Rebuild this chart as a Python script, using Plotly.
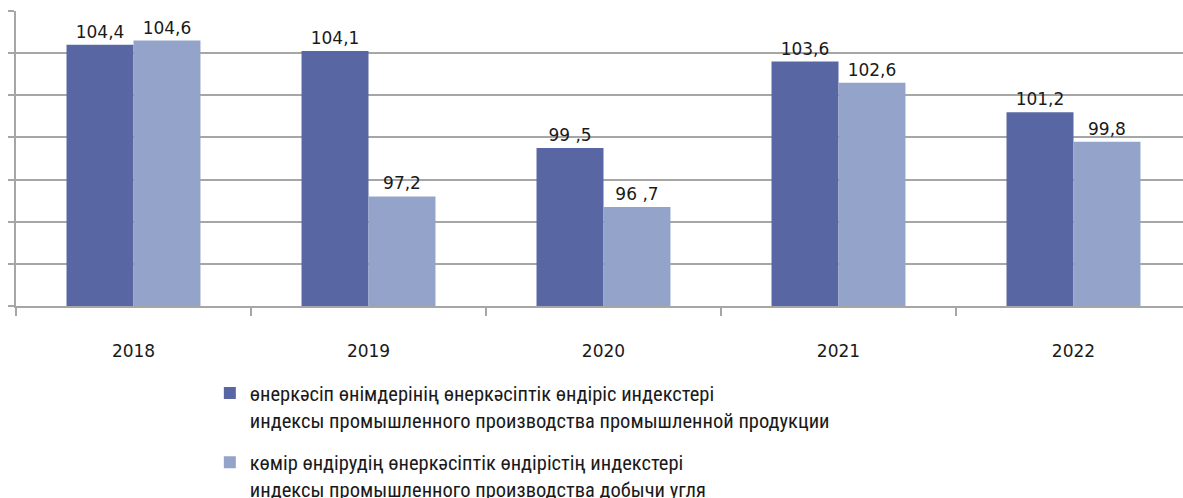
import plotly.graph_objects as go

years = ["2018", "2019", "2020", "2021", "2022"]
industry = [104.4, 104.1, 99.5, 103.6, 101.2]
coal = [104.6, 97.2, 96.7, 102.6, 99.8]
industry_labels = ["104,4", "104,1", "99 ,5", "103,6", "101,2"]
coal_labels = ["104,6", "97,2", "96 ,7", "102,6", "99,8"]
name_industry = "өнеркәсіп өнімдерінің өнеркәсіптік өндіріс индекстері<br>индексы промышленного производства промышленной продукции"
name_coal = "көмір өндірудің өнеркәсіптік өндірістің индекстері<br>индексы промышленного производства добычи угля"
unit_note = "в процентах к предыдущему году"

LABEL_FONT = dict(family="DejaVu Sans, Verdana, sans-serif", size=17, color="#1a1a1a")
TEXT_FONT = "Roboto Condensed, Liberation Sans, sans-serif"

fig = go.Figure()
fig.add_trace(go.Bar(
    x=years, y=industry, name=name_industry, legendgroup="a",
    marker=dict(color="#5867a3", line=dict(width=0)),
    text=industry_labels, textposition="outside", textfont=LABEL_FONT,
    cliponaxis=False,
))
fig.add_trace(go.Bar(
    x=years, y=coal, name=name_coal, legendgroup="b",
    marker=dict(color="#94a3c9", line=dict(width=0)),
    text=coal_labels, textposition="outside", textfont=LABEL_FONT,
    cliponaxis=False,
))

fig.update_layout(
    width=1183, height=498,
    margin=dict(l=16, r=0, t=11, b=192, autoexpand=False),
    paper_bgcolor="white", plot_bgcolor="white",
    barmode="group", bargap=0.43, bargroupgap=0,
    showlegend=True,
    legend=dict(
        x=0.1661, xanchor="left", y=-0.2278, yanchor="top",
        font=dict(family=TEXT_FONT, size=20.5, color="#1a1a1a"),
        valign="top", bgcolor="rgba(0,0,0,0)",
        traceorder="grouped", tracegroupgap=13,
    ),
)
fig.update_xaxes(
    type="category", range=[-0.5, 4.466], automargin=False,
    showline=True, linecolor="#a6a6a6", linewidth=2,
    ticks="outside", tickson="boundaries", ticklen=8, tickcolor="#a6a6a6", tickwidth=2,
    showgrid=False, ticklabelstandoff=29,
    tickfont=LABEL_FONT,
)
fig.update_yaxes(
    range=[92, 106], dtick=2, tick0=92, automargin=False,
    showline=True, linecolor="#a6a6a6", linewidth=2,
    ticks="outside", ticklen=6, tickcolor="#a6a6a6", tickwidth=2,
    showticklabels=False,
    showgrid=True, gridcolor="#a6a6a6", gridwidth=2,
    zeroline=False,
)
fig.add_annotation(
    text=unit_note, xref="paper", yref="paper", x=1, y=1,
    xanchor="right", yanchor="bottom", yshift=8, showarrow=False,
    font=dict(family=TEXT_FONT, size=20, color="#1a1a1a"),
)
fig.write_html(
    "out.html", config={"displayModeBar": False},
    post_script=("document.body.style.margin='0px';"
                 "document.body.style.overflow='hidden';"
                 "document.documentElement.style.overflow='hidden';"),
)
